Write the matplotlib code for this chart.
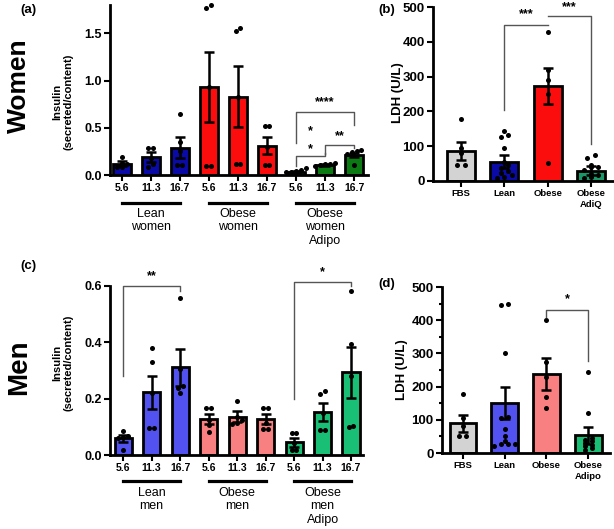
import numpy as np
import matplotlib
matplotlib.use("Agg")
import matplotlib.pyplot as plt
from matplotlib.ticker import MultipleLocator

plt.rcParams['font.family'] = ['Liberation Sans', 'DejaVu Sans']

W, H = 614, 529

# ---- data ----
glucose = ['5.6', '11.3', '16.7']

# (a) women insulin, groups: lean / obese / obese adipo, each at 5.6, 11.3, 16.7
women_ins_mean = [0.12, 0.19, 0.29, 0.93, 0.83, 0.31, 0.03, 0.11, 0.21]
women_ins_sem = [0.025, 0.05, 0.11, 0.37, 0.32, 0.09, 0.01, 0.01, 0.02]
women_ins_pts = [
    [0.19, 0.13, 0.12, 0.09, 0.08],
    [0.29, 0.29, 0.18, 0.12, 0.09],
    [0.65, 0.35, 0.25, 0.11, 0.11],
    [1.80, 1.77, 0.93, 0.10, 0.10],
    [1.56, 1.53, 0.83, 0.12, 0.12],
    [0.52, 0.52, 0.30, 0.11, 0.11],
    [0.07, 0.05, 0.04, 0.03, 0.03],
    [0.13, 0.12, 0.12, 0.11, 0.10],
    [0.26, 0.25, 0.24, 0.22, 0.11],
]
women_groups = ['Lean\nwomen', 'Obese\nwomen', 'Obese\nwomen\nAdipo']

# (b) women LDH
ldh_w_cats = ['FBS', 'Lean', 'Obese', 'Obese\nAdiQ']
ldh_w_mean = [87, 56, 272, 30]
ldh_w_sem = [26, 18, 52, 13]
ldh_w_pts = [
    [177, 94, 80, 46, 46],
    [144, 131, 125, 95, 55, 46, 38, 30, 22, 17, 12, 8],
    [429, 320, 290, 250, 51],
    [75, 67, 46, 41, 41, 32, 20, 17, 12, 8],
]

# (c) men insulin
men_ins_mean = [0.059, 0.222, 0.311, 0.128, 0.136, 0.127, 0.046, 0.152, 0.293]
men_ins_sem = [0.012, 0.06, 0.066, 0.018, 0.02, 0.018, 0.016, 0.031, 0.092]
men_ins_pts = [
    [0.086, 0.067, 0.065, 0.060, 0.018],
    [0.381, 0.329, 0.220, 0.095, 0.095],
    [0.556, 0.304, 0.245, 0.237, 0.221],
    [0.168, 0.168, 0.124, 0.106, 0.083],
    [0.193, 0.136, 0.124, 0.115, 0.110],
    [0.168, 0.168, 0.112, 0.091, 0.091],
    [0.079, 0.079, 0.041, 0.018, 0.018],
    [0.227, 0.215, 0.150, 0.089, 0.089],
    [0.583, 0.393, 0.280, 0.100, 0.104],
]
men_groups = ['Lean\nmen', 'Obese\nmen', 'Obese\nmen\nAdipo']

# (d) men LDH
ldh_m_cats = ['FBS', 'Lean', 'Obese', 'Obese\nAdipo']
ldh_m_mean = [89, 150, 238, 53]
ldh_m_sem = [25, 48, 48, 25]
ldh_m_pts = [
    [177, 105, 80, 50, 50],
    [450, 445, 302, 107, 105, 72, 50, 35, 28, 28, 28, 20],
    [401, 275, 228, 168, 135],
    [245, 120, 45, 40, 35, 30, 25, 20, 15, 10],
]

women_cols = ['#0a0aa6'] * 3 + ['#fb0d0d'] * 3 + ['#0b7a12'] * 3
ldh_w_cols = ['#d3d3d3', '#0a0aa6', '#fb0d0d', '#1a9868']
men_cols = ['#5252f0'] * 3 + ['#f98080'] * 3 + ['#18bf74'] * 3
ldh_m_cols = ['#d3d3d3', '#5252f0', '#f98080', '#18bf74']


def fig_ax(left, top, right, bottom):
    # pixel box -> figure fractions
    return fig.add_axes([left / W, 1 - bottom / H, (right - left) / W, (bottom - top) / H])


def spread(vals, tol, step):
    # put nearly equal values side by side, like the prism scatter
    vals = np.asarray(vals, float)
    order = np.argsort(vals)
    offs = np.zeros(len(vals))
    i = 0
    while i < len(order):
        j = i
        while j + 1 < len(order) and vals[order[j + 1]] - vals[order[i]] < tol:
            j += 1
        n = j - i + 1
        for k in range(n):
            offs[order[i + k]] = (k - (n - 1) / 2) * step
        i = j + 1
    return offs


def bars(ax, means, sems, pts, cols, width, ymax, tol):
    x = np.arange(len(means))
    ax.bar(x, means, width, color=cols, edgecolor='black', linewidth=2, zorder=2)
    ax.errorbar(x, means, yerr=sems, fmt='none', ecolor='black', elinewidth=1.8,
                capsize=3.5, capthick=1.8, zorder=4)
    for i, p in enumerate(pts):
        ax.scatter(i + spread(p, tol * ymax, 0.17), p, s=13, color='black', zorder=5,
                   linewidths=0, clip_on=False)
    ax.set_ylim(0, ymax)
    for s in ['top', 'right']:
        ax.spines[s].set_visible(False)
    for s in ['left', 'bottom']:
        ax.spines[s].set_linewidth(2)
    ax.tick_params(width=1.5, length=4, labelsize=9, pad=2)
    for lab in ax.get_yticklabels():
        lab.set_fontweight('bold')
    return x


def bracket(ax, x1, x2, y, y1, y2, star, sy, **kw):
    ax.plot([x1, x1, x2, x2], [y1, y, y, y2], color='#555555', lw=1, clip_on=False, zorder=6)
    ax.text((x1 + x2) / 2, sy, star, ha='center', va='center', fontsize=9,
            fontweight='bold', clip_on=False, **kw)


def groups(ax, names, yline, ytext):
    tr = ax.get_xaxis_transform()
    for g, name in enumerate(names):
        ax.plot([3 * g, 3 * g + 2], [yline, yline], color='black', lw=2.3,
                transform=tr, clip_on=False)
        ax.text(3 * g + 1, ytext, name, ha='center', va='top', fontsize=9,
                transform=tr, linespacing=1.15)


fig = plt.figure(figsize=(W / 100, H / 100), dpi=100)

# ---- (a) ----
ax = fig_ax(110, 5, 368, 175)
x = bars(ax, women_ins_mean, women_ins_sem, women_ins_pts, women_cols, 0.62, 1.8, 0.025)
ax.set_xlim(-0.41, 8.48)
ax.set_yticks([0, 0.5, 1.0, 1.5])
ax.set_yticklabels(['0.0', '0.5', '1.0', '1.5'], fontweight='bold')
ax.set_xticks(x)
ax.set_xticklabels(glucose * 3, fontsize=7.5, fontweight='bold')
groups(ax, women_groups, -0.165, -0.195)
bracket(ax, 6, 8, 0.67, 0.34, 0.53, '****', 0.77)
bracket(ax, 6, 7, 0.20, 0.10, 0.23, '*\n*', 0.37, linespacing=1.6)
bracket(ax, 7, 8, 0.32, 0.22, 0.29, '**', 0.41)

# ---- (b) ----
ax = fig_ax(433, 7, 613, 181)
x = bars(ax, ldh_w_mean, ldh_w_sem, ldh_w_pts, ldh_w_cols, 0.65, 500, 0.02)
ax.set_xlim(-0.65, 3.51)
ax.yaxis.set_major_locator(MultipleLocator(100))
ax.tick_params(axis='y', labelsize=9.5)
ax.set_xticks(x)
ax.set_xticklabels(ldh_w_cats, fontsize=6.8, fontweight='bold')
bracket(ax, 1, 2, 449, 204, 449, '***', 480)
bracket(ax, 2, 3, 474, 474, 105, '***', 500)

# ---- (c) ----
ax = fig_ax(110, 286, 363, 455)
x = bars(ax, men_ins_mean, men_ins_sem, men_ins_pts, men_cols, 0.6, 0.6, 0.025)
ax.set_xlim(-0.46, 8.42)
ax.set_yticks([0, 0.2, 0.4, 0.6])
ax.set_yticklabels(['0.0', '0.2', '0.4', '0.6'], fontweight='bold')
ax.set_xticks(x)
ax.set_xticklabels(glucose * 3, fontsize=7.5, fontweight='bold')
groups(ax, men_groups, -0.153, -0.19)
bracket(ax, 0, 2, 0.601, 0.28, 0.583, '**', 0.636)
bracket(ax, 6, 8, 0.615, 0.2, 0.60, '*', 0.65)

# ---- (d) ----
ax = fig_ax(442, 287, 610, 453)
x = bars(ax, ldh_m_mean, ldh_m_sem, ldh_m_pts, ldh_m_cols, 0.64, 500, 0.02)
ax.set_xlim(-0.5, 3.52)
ax.yaxis.set_major_locator(MultipleLocator(100))
ax.yaxis.set_minor_locator(MultipleLocator(50))
ax.tick_params(axis='y', which='minor', width=1.5, length=2.5)
ax.tick_params(axis='y', labelsize=9.5)
ax.set_xticks(x)
ax.set_xticklabels(ldh_m_cats, fontsize=6.8, fontweight='bold')
bracket(ax, 2, 3, 431, 410, 278, '*', 462)

# ---- labels ----
def ftext(px, py, s, **kw):
    fig.text(px / W, 1 - py / H, s, ha='center', va='center', **kw)

ftext(28, 10, '(a)', fontsize=9.5, fontweight='bold')
ftext(387, 10, '(b)', fontsize=9.5, fontweight='bold')
ftext(28, 266, '(c)', fontsize=9.5, fontweight='bold')
ftext(387, 284, '(d)', fontsize=9.5, fontweight='bold')
ftext(19, 86, 'Women', fontsize=19, fontweight='bold', rotation=90)
ftext(19, 367, 'Men', fontsize=20, fontweight='bold', rotation=90)
ftext(63, 102, 'Insulin\n(secreted/content)', fontsize=8, fontweight='bold',
      rotation=90, linespacing=1.2)
ftext(63, 363, 'Insulin\n(secreted/content)', fontsize=8, fontweight='bold',
      rotation=90, linespacing=1.2)
ftext(398, 93, 'LDH (U/L)', fontsize=9.5, fontweight='bold', rotation=90)
ftext(402, 370, 'LDH (U/L)', fontsize=9.5, fontweight='bold', rotation=90)

fig.savefig('out.png', dpi=100)
